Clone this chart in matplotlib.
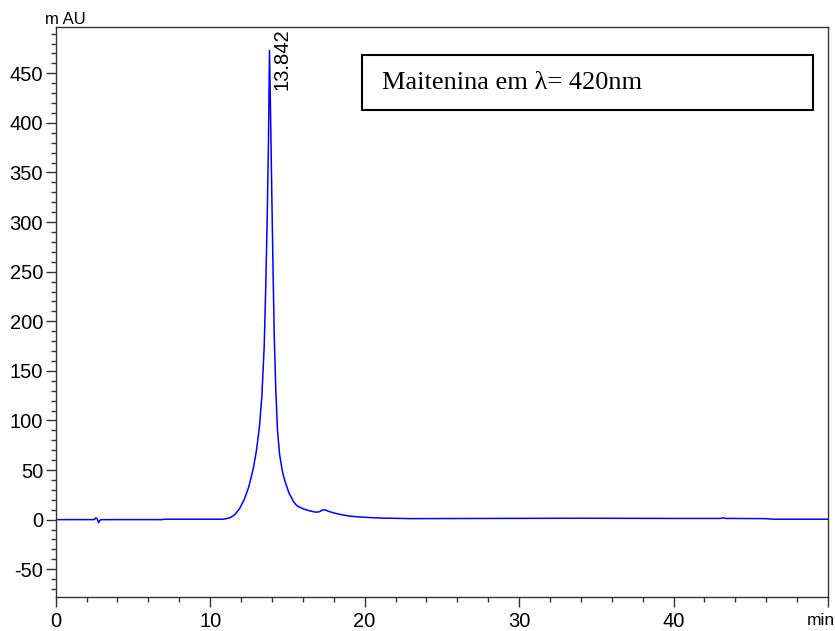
import numpy as np
import matplotlib.pyplot as plt
from matplotlib.patches import Rectangle
from matplotlib.ticker import MultipleLocator

# chromatogram points (min, mAU)
time = [0.0, 2.5, 2.6, 2.68, 2.78, 2.86, 3.0, 6.9, 7.0, 10.8, 11.0, 11.3, 11.6,
        11.9, 12.2, 12.5, 12.8, 13.0, 13.2, 13.35, 13.5, 13.6, 13.7, 13.78,
        13.842, 13.92, 14.0, 14.08, 14.15, 14.25, 14.36, 14.5, 14.7, 14.86,
        15.1, 15.4, 15.62, 16.0, 16.4, 16.8, 17.05, 17.3, 17.45, 17.7, 18.0,
        18.4, 19.0, 19.7, 21.0, 23.0, 28.0, 34.0, 40.0, 43.0, 43.2, 43.4,
        46.0, 46.5, 50.0]
mau = [0.0, 0.0, 1.8, 0.8, -3.0, -0.5, 0.0, 0.0, 0.4, 0.4, 0.8, 2.0, 5.0,
       11.0, 20.0, 33.0, 52.0, 70.0, 95.0, 125.0, 175.0, 235.0, 310.0, 385.0,
       473.0, 400.0, 320.0, 245.0, 185.0, 130.0, 90.0, 65.0, 47.0, 38.0,
       27.0, 18.0, 14.0, 11.0, 9.0, 7.6, 7.8, 9.8, 9.8, 8.2, 6.8,
       5.3, 3.6, 2.6, 1.6, 1.0, 1.2, 1.4, 1.2, 1.2, 1.8, 1.2,
       1.0, 0.4, 0.4]
peak_time = 13.842

fig = plt.figure(figsize=(8.35, 6.31), dpi=100)
ax = fig.add_axes([0.0667, 0.0539, 0.9249, 0.9038])

ax.plot(time, mau, color='#0000ff', linewidth=1.1)

ax.set_xlim(0, 50)
ax.set_ylim(-78, 497)
ax.xaxis.set_minor_locator(MultipleLocator(2))
ax.yaxis.set_minor_locator(MultipleLocator(10))

xt = [0, 10, 20, 30, 40]
ax.set_xticks(xt + [50])
ax.set_xticklabels([str(v) for v in xt] + [''])
yt = list(range(-50, 451, 50))
ax.set_yticks(yt)
ax.set_yticklabels([str(v) for v in yt])

tick_font = 'Liberation Sans'
for lab in ax.get_xticklabels() + ax.get_yticklabels():
    lab.set_family(tick_font)
    lab.set_fontsize(14.5)
ax.tick_params(which='major', length=7, width=1, color='#333333', pad=2)
ax.tick_params(which='minor', length=3.5, width=1, color='#333333')
ax.tick_params(axis='x', which='major', pad=3.5)
for s in ax.spines.values():
    s.set_color('#333333')
    s.set_linewidth(1)

# peak label
ax.text(peak_time + 0.8, 495, '%.3f' % peak_time, rotation=90, ha='center', va='top',
        family=tick_font, fontsize=14.5)

# annotation box
ax.add_patch(Rectangle((0.396, 0.854), 0.585, 0.096, transform=ax.transAxes,
                       fill=False, edgecolor='black', linewidth=1.5))
ax.text(0.422, 0.902, 'Maitenina em λ= 420nm', transform=ax.transAxes,
        ha='left', va='center', family='Liberation Serif', fontsize=19)

fig.text(45 / 835, 1 - 27 / 631, 'm AU', ha='left', va='bottom', family=tick_font, fontsize=12)
fig.text(1.0, 0.005, 'min', ha='right', va='bottom', family=tick_font, fontsize=12.5)

fig.savefig('out.png', dpi=100)
